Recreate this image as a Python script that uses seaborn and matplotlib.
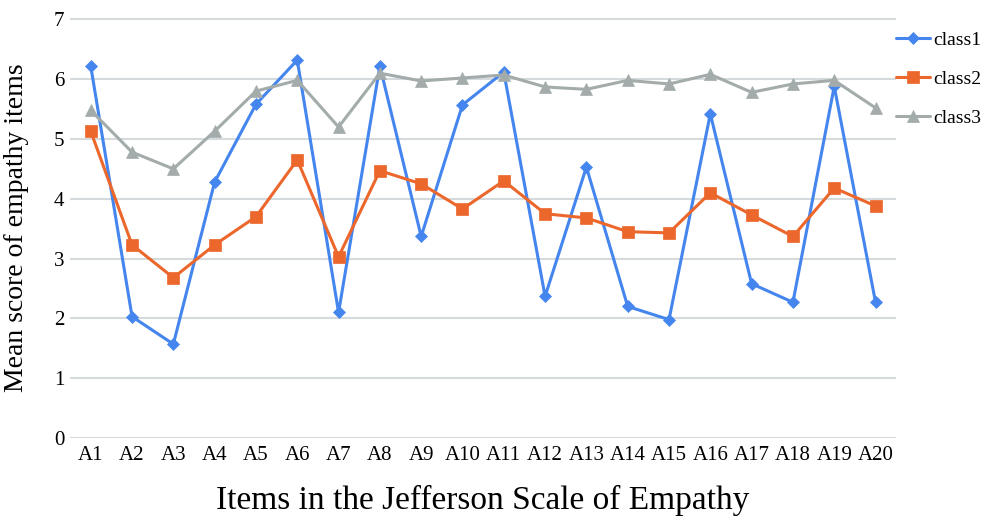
import matplotlib
matplotlib.use("Agg")
import matplotlib.pyplot as plt
import seaborn as sns
import pandas as pd

items = [f"A{i}" for i in range(1, 21)]
class1 = [6.22, 2.03, 1.57, 4.28, 5.58, 6.32, 2.10, 6.22, 3.37, 5.57,
          6.12, 2.37, 4.53, 2.20, 1.98, 5.42, 2.58, 2.27, 5.88, 2.27]
class2 = [5.13, 3.23, 2.68, 3.23, 3.70, 4.65, 3.03, 4.47, 4.25, 3.83,
          4.30, 3.75, 3.68, 3.45, 3.43, 4.10, 3.73, 3.37, 4.18, 3.88]
class3 = [5.48, 4.78, 4.50, 5.13, 5.80, 5.98, 5.20, 6.10, 5.97, 6.02,
          6.07, 5.87, 5.83, 5.98, 5.92, 6.08, 5.78, 5.92, 5.98, 5.52]
series_names = ["class1", "class2", "class3"]
yticks = [0, 1, 2, 3, 4, 5, 6, 7]

sns.set_theme(style="white")
plt.rcParams["font.family"] = ["Liberation Serif", "DejaVu Serif"]
plt.rcParams["text.color"] = "black"
plt.rcParams["axes.labelcolor"] = "black"
plt.rcParams["xtick.color"] = "black"
plt.rcParams["ytick.color"] = "black"

fig = plt.figure(figsize=(9.87, 5.19), dpi=100)
ax = fig.add_axes([0.071, 0.156, 0.837, 0.809])

pos = list(range(len(items)))
styles = {
    "class1": dict(color="#4485ee", marker="D", markersize=6.5),
    "class2": dict(color="#ec672c", marker="s", markersize=9),
    "class3": dict(color="#a3abab", marker="^", markersize=9),
}
for name, vals in zip(series_names, [class1, class2, class3]):
    df = pd.DataFrame({"x": pos, "y": vals})
    st = styles[name]
    sns.lineplot(data=df, x="x", y="y", ax=ax, color=st["color"], linewidth=2.2,
                 marker=st["marker"], markersize=st["markersize"],
                 markeredgecolor=st["color"], markeredgewidth=0.5, label=name,
                 zorder=3)

ax.set_xlim(-0.5, len(items) - 0.5)
ax.set_ylim(0, 7.02)
ax.set_xticks(pos)
ax.set_xticklabels(items, fontsize=15)
ax.set_yticks(yticks)
ax.set_yticklabels([str(t) for t in yticks], fontsize=15)
ax.yaxis.grid(True, color="#d5dbdc", linewidth=1.5, zorder=0)
ax.xaxis.grid(False)
for s in ax.spines.values():
    s.set_visible(False)
ax.tick_params(axis="both", length=0, pad=6)
ax.tick_params(axis="y", pad=4)

ax.set_xlabel("Items in the Jefferson Scale of Empathy", fontsize=24, labelpad=14)
ax.set_ylabel("Mean score of empathy items", fontsize=20, labelpad=18)

leg = ax.legend(loc="upper left", bbox_to_anchor=(1.0, 0.968), frameon=False,
                fontsize=14, handlelength=1.75, labelspacing=1.1, borderaxespad=0,
                handletextpad=0.15, borderpad=0.0)

fig.savefig("out.png", dpi=100)
